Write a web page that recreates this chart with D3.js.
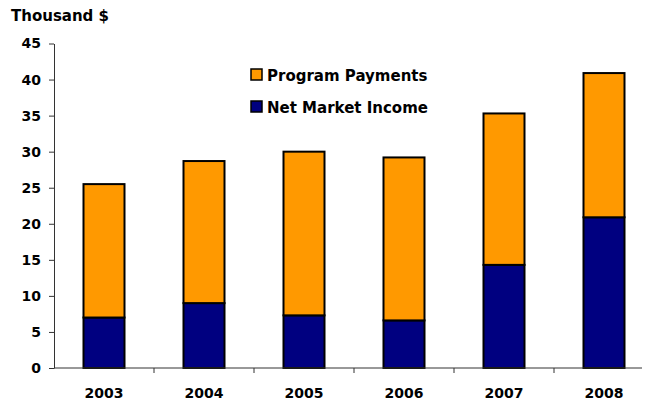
<!DOCTYPE html>
<html><head><meta charset="utf-8">
<script src="https://cdn.jsdelivr.net/npm/d3@7/dist/d3.min.js"></script>
<style>
body{margin:0;background:#fff;}
text{font-family:"DejaVu Sans", sans-serif;font-weight:bold;fill:#000;}
</style></head>
<body><svg id="c" width="646" height="404"></svg>
<script>
const years = ["2003","2004","2005","2006","2007","2008"];
const netMarketIncome = [7.0, 9.0, 7.3, 6.6, 14.3, 20.9];
const programPayments = [18.5, 19.7, 22.7, 22.6, 21.0, 20.0];
const yTicks = [0,5,10,15,20,25,30,35,40,45];
const seriesNames = ["Program Payments","Net Market Income"];
const colors = {"Program Payments":"#FF9900","Net Market Income":"#000080"};

const svg = d3.select("#c");
const x = d3.scaleBand().domain(years).range([54,654]).paddingInner(0.59).paddingOuter(0.295);
const y = d3.scaleLinear().domain([0,45]).range([368,43.5]);

const data = years.map((yr,i)=>({year:yr,"Net Market Income":netMarketIncome[i],"Program Payments":programPayments[i]}));
const stack = d3.stack().keys(["Net Market Income","Program Payments"])(data);

svg.append("text").attr("x",11).attr("y",21).attr("font-size",15).text("Thousand $");

// y axis
const ya = svg.append("g").attr("transform","translate(54,0)")
  .call(d3.axisLeft(y).tickValues(yTicks).tickSize(5).tickPadding(8).tickSizeOuter(0));
ya.select(".domain").attr("stroke","#333");
ya.selectAll(".tick line").attr("stroke","#333");
ya.selectAll("text").attr("font-size",14).style("font-family","'DejaVu Sans', sans-serif").style("font-weight","bold").attr("fill","#000");

// bars
stack.forEach(s=>{
  svg.append("g").selectAll("rect").data(s).join("rect")
    .attr("x",d=>x(d.data.year))
    .attr("y",d=>y(d[1]))
    .attr("width",x.bandwidth())
    .attr("height",d=>y(d[0])-y(d[1]))
    .attr("fill",colors[s.key])
    .attr("stroke","#000").attr("stroke-width",2);
});

// x axis
const xa = svg.append("g").attr("transform","translate(0,368)");
xa.append("line").attr("x1",54).attr("x2",642).attr("y1",0).attr("y2",0).attr("stroke","#333");
const bounds = years.map((yr,i)=>54+i*100).slice(1);
xa.selectAll("line.t").data(bounds).join("line").attr("class","t")
  .attr("x1",d=>d).attr("x2",d=>d).attr("y1",0).attr("y2",5).attr("stroke","#333");
xa.selectAll("text").data(years).join("text")
  .attr("x",d=>x(d)+x.bandwidth()/2).attr("y",30).attr("text-anchor","middle")
  .attr("font-size",14).text(d=>d);

// legend
const lg = svg.append("g");
seriesNames.forEach((n,i)=>{
  const yy = 69 + i*32;
  lg.append("rect").attr("x",251).attr("y",yy).attr("width",11).attr("height",11)
    .attr("fill",colors[n]).attr("stroke","#000").attr("stroke-width",1.5);
  lg.append("text").attr("x",267).attr("y",yy+12).attr("font-size",15).text(n);
});
</script></body></html>
